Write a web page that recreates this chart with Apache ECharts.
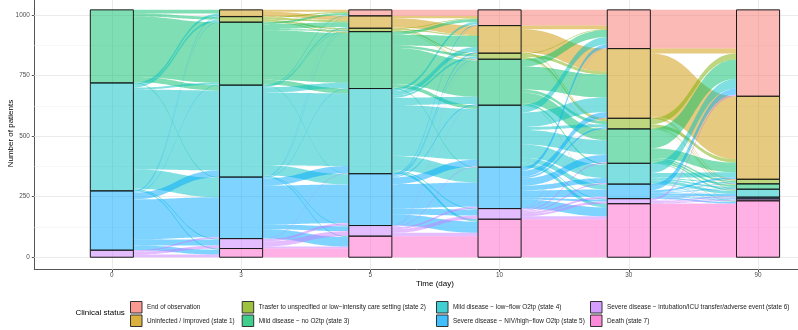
<!DOCTYPE html>
<html><head><meta charset="utf-8">
<script src="https://cdn.jsdelivr.net/npm/echarts@6/dist/echarts.min.js"></script>
<style>html,body{margin:0;padding:0;background:#fff}#c{width:798px;height:330px}</style>
</head><body><div id="c"></div>
<script>
// ---------- data ----------
const timeLabels = ["0", "3", "5", "10", "30", "90"];
const stateNames = [
  "End of observation",
  "Uninfected / Improved (state 1)",
  "Trasfer to unspecified or low\u2212intensity care setting (state 2)",
  "Mild disease \u2212 no O2tp (state 3)",
  "Mild disease \u2212 low\u2212flow O2tp (state 4)",
  "Severe disease \u2212 NIV/high\u2212flow O2tp (state 5)",
  "Severe disease \u2212 intubation/ICU transfer/adverse event (state 6)",
  "Death (state 7)"
];
const stateColors = ["#F8766D", "#CD9600", "#7CAE00", "#00BE67", "#00BFC4", "#00A9FF", "#C77CFF", "#FF61CC"];
// transition counts: rows = state at earlier time, cols = state at later time
// order: EOO, s1, s2, s3, s4, s5, s6, death
const trans_0_3 = [
  [0,0,0,0,0,0,0,0],
  [0,0,0,0,0,0,0,0],
  [0,0,0,0,0,0,0,0],
  [0,15,12,250,22,3,0,0],
  [0,10,9,8,330,80,4,5],
  [0,3,2,2,28,165,25,20],
  [0,0,0,0,0,6,12,11],
  [0,0,0,0,0,0,0,0]
];
const trans_3_5 = [
  [0,0,0,0,0,0,0,0],
  [8,18,0,2,0,0,0,0],
  [5,8,6,4,0,0,0,0],
  [8,20,5,205,20,2,0,0],
  [3,4,2,22,300,42,3,4],
  [1,1,1,2,30,160,20,39],
  [0,0,0,0,2,10,21,8],
  [0,0,0,0,0,0,0,36]
];
const trans_5_10 = [
  [25,0,0,0,0,0,0,0],
  [10,38,0,3,0,0,0,0],
  [3,5,4,2,0,0,0,0],
  [12,45,10,150,15,3,0,0],
  [10,20,8,30,210,60,4,10],
  [4,5,2,4,28,100,25,46],
  [1,1,1,1,3,8,15,14],
  [0,0,0,0,0,0,0,87]
];
const trans_10_30 = [
  [65,0,0,0,0,0,0,0],
  [15,95,4,0,0,0,0,0],
  [3,12,8,2,0,0,0,0],
  [30,95,12,45,6,2,0,0],
  [30,60,12,60,55,20,4,15],
  [15,24,7,30,20,30,8,37],
  [2,2,1,5,5,8,9,12],
  [0,0,0,0,0,0,0,157]
];
const trans_30_90 = [
  [160,0,0,0,0,0,0,0],
  [20,260,3,3,2,0,0,0],
  [25,14,3,1,0,0,0,1],
  [80,40,6,8,5,1,0,2],
  [40,20,4,6,12,1,1,2],
  [25,8,2,3,10,3,3,6],
  [7,1,1,1,4,2,4,1],
  [0,0,0,0,0,0,0,221]
];
const transitions = [trans_0_3, trans_3_5, trans_5_10, trans_10_30, trans_30_90];
const yTickValues = [0, 250, 500, 750, 1000];
const yMinorValues = [125, 375, 625, 875];

// ---------- derived layout ----------
const NS = stateNames.length;
const nAxes = timeLabels.length;
const axisPos = timeLabels.map((_, i) => i + 1);
const strataCounts = [];
strataCounts.push(transitions[0].map(r => r.reduce((a, b) => a + b, 0)));
transitions.forEach(M => {
  const col = new Array(NS).fill(0);
  M.forEach(r => r.forEach((c, j) => { col[j] += c; }));
  strataCounts.push(col);
});
function stackBounds(counts) {
  const b = [];
  let acc = 0;
  for (let k = NS - 1; k >= 0; k--) { b[k] = [acc, acc + counts[k]]; acc += counts[k]; }
  return b;
}
const bounds = strataCounts.map(stackBounds);
const totalN = strataCounts[0].reduce((a, b) => a + b, 0);

const flowData = stateNames.map(() => []);
transitions.forEach((M, i) => {
  const L = bounds[i], R = bounds[i + 1];
  const outCum = new Array(NS).fill(0), inCum = new Array(NS).fill(0);
  for (let k = 0; k < NS; k++) {
    for (let j = 0; j < NS; j++) {
      const c = M[k][j];
      if (!c) continue;
      const tl = L[k][1] - outCum[k];
      const tr = R[j][1] - inCum[j];
      outCum[k] += c; inCum[j] += c;
      flowData[k].push([axisPos[i], tl, tl - c, tr, tr - c]);
    }
  }
});
const strataData = [];
bounds.forEach((b, i) => {
  for (let k = 0; k < NS; k++) {
    if (strataCounts[i][k] > 0) strataData.push([axisPos[i], b[k][0], b[k][1], k]);
  }
});

function rgba(hex, a) {
  const n = parseInt(hex.slice(1), 16);
  return `rgba(${(n >> 16) & 255},${(n >> 8) & 255},${n & 255},${a})`;
}
const HALF = 1 / 6;      // half stratum width (axis units)
const FONT = "'Liberation Sans', Arial, sans-serif";

function flowRenderer(k) {
  return function (params, api) {
    const x0 = api.value(0) + HALF, x1 = api.value(0) + 1 - HALF;
    const xm = (x0 + x1) / 2;
    const tl = api.value(1), bl = api.value(2), tr = api.value(3), br = api.value(4);
    const N = 30;
    const top = [], bot = [];
    for (let s = 0; s <= N; s++) {
      const t = s / N, u = 1 - t;
      const x = x0 * u * u * u + 3 * xm * u * u * t + 3 * xm * u * t * t + x1 * t * t * t;
      const f = 3 * t * t - 2 * t * t * t;
      top.push(api.coord([x, tl + (tr - tl) * f]));
      bot.push(api.coord([x, bl + (br - bl) * f]));
    }
    const pts = top.concat(bot.reverse());
    return { type: 'polygon', shape: { points: pts }, style: { fill: rgba(stateColors[k], 0.5) } };
  };
}
function strataRenderer(params, api) {
  const x = api.value(0), lo = api.value(1), hi = api.value(2), k = api.value(3);
  const p1 = api.coord([x - HALF, hi]);
  const p2 = api.coord([x + HALF, lo]);
  return {
    type: 'rect',
    shape: { x: p1[0], y: p1[1], width: p2[0] - p1[0], height: p2[1] - p1[1] },
    style: { fill: rgba(stateColors[k], 0.5), stroke: '#1a1a1a', lineWidth: 1 }
  };
}

const series = [];
series.push({
  type: 'line', data: [], z: 1, silent: true,
  markLine: {
    silent: true, z: 1, symbol: ['none', 'none'], label: { show: false }, animation: false,
    emphasis: { disabled: true },
    data: [
      ...yMinorValues.map(v => ({ yAxis: v, lineStyle: { color: '#F2F2F2', width: 0.6, type: 'solid' } })),
      ...yTickValues.map(v => ({ yAxis: v, lineStyle: { color: '#EBEBEB', width: 1, type: 'solid' } })),
      ...axisPos.map(v => ({ xAxis: v, lineStyle: { color: '#EBEBEB', width: 1, type: 'solid' } }))
    ]
  }
});
stateNames.forEach((name, k) => {
  series.push({
    type: 'custom', name: name, z: 2, silent: true,
    itemStyle: { color: rgba(stateColors[k], 0.75) },
    renderItem: flowRenderer(k),
    encode: { x: 0, y: [1, 2, 3, 4] },
    data: flowData[k]
  });
});
series.push({
  type: 'custom', name: 'strata', z: 3, silent: true,
  renderItem: strataRenderer,
  encode: { x: 0, y: [1, 2] },
  data: strataData
});

function legendCol(idx, left) {
  return {
    orient: 'vertical', left: left, top: 301, padding: 0, itemGap: 1,
    itemWidth: 11.5, itemHeight: 11.5, selectedMode: false,
    textStyle: { fontSize: 6.4, color: '#1A1A1A', fontFamily: FONT },
    data: idx.map(k => ({
      name: stateNames[k], icon: 'rect',
      itemStyle: { color: rgba(stateColors[k], 0.75), borderColor: '#333333', borderWidth: 1 }
    }))
  };
}

const option = {
  animation: false,
  backgroundColor: '#ffffff',
  grid: { left: 34.3, right: -37.6, top: -2.5, bottom: 60.4, containLabel: false, outerBoundsMode: 'none' },
  title: {
    text: 'Clinical status', left: 75.5, top: 308.5, padding: 0,
    textStyle: { fontSize: 8, fontWeight: 'normal', color: '#000', fontFamily: FONT }
  },
  legend: [
    legendCol([0, 1], 130),
    legendCol([2, 3], 241.7),
    legendCol([4, 5], 436),
    legendCol([6, 7], 590)
  ],
  xAxis: {
    type: 'value', min: 0.4, max: nAxes + 0.6,
    name: 'Time (day)', nameLocation: 'middle', nameGap: 10.5, nameMoveOverlap: false,
    nameTextStyle: { fontSize: 8, color: '#000', fontFamily: FONT },
    axisLine: { show: true, onZero: false, lineStyle: { color: '#555', width: 1 } },
    axisTick: { show: true, length: 2.5, customValues: axisPos, lineStyle: { color: '#555' } },
    axisLabel: {
      customValues: axisPos, fontSize: 6.4, color: '#4D4D4D', margin: 3, fontFamily: FONT,
      formatter: v => timeLabels[Math.round(v) - 1]
    },
    splitLine: { show: false }
  },
  yAxis: {
    type: 'value', min: -0.05 * totalN, max: 1.05 * totalN,
    name: 'Number of patients', nameLocation: 'middle', nameGap: 20, nameRotate: 90, nameMoveOverlap: false,
    nameTextStyle: { fontSize: 8, color: '#000', fontFamily: FONT },
    axisLine: { show: true, onZero: false, lineStyle: { color: '#555', width: 1 } },
    axisTick: { show: true, length: 2.5, customValues: yTickValues, lineStyle: { color: '#555' } },
    axisLabel: {
      customValues: yTickValues, fontSize: 6.4, color: '#4D4D4D', margin: 4.5, fontFamily: FONT,
      formatter: v => String(v)
    },
    splitLine: { show: false }
  },
  series: series
};
const chart = echarts.init(document.getElementById('c'), null, { renderer: 'canvas' });
chart.setOption(option);
</script>
</body></html>
